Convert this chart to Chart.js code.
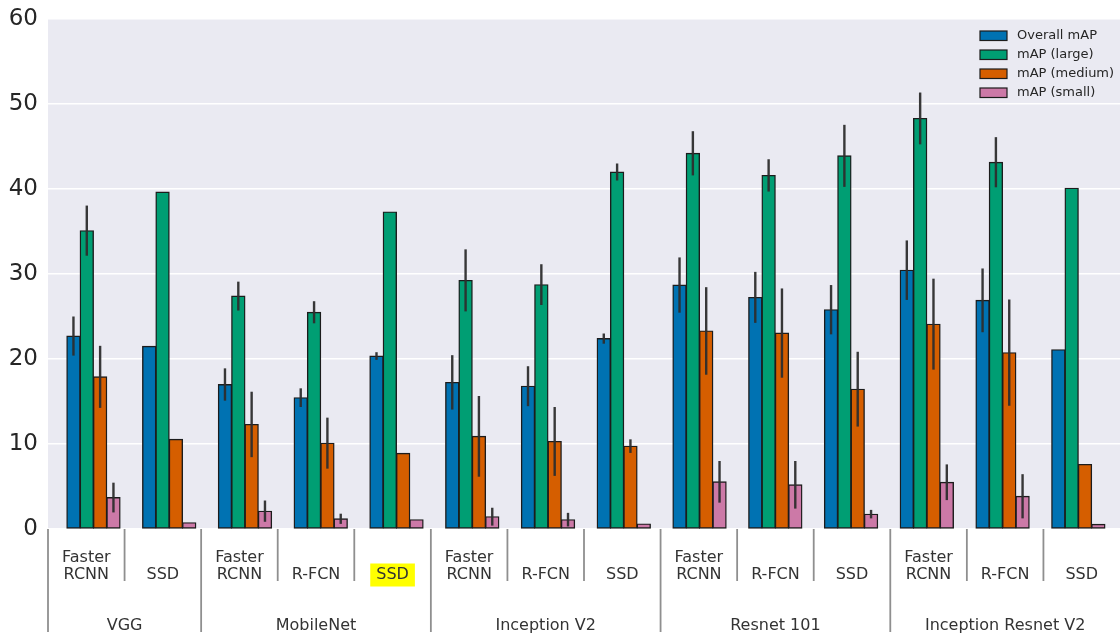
<!DOCTYPE html>
<html>
<head>
<meta charset="utf-8">
<script src="https://cdn.jsdelivr.net/npm/chart.js@4.4.1/dist/chart.umd.min.js"></script>
<style>
html, body { margin: 0; padding: 0; background: #fff; }
#wrap { width: 1120px; height: 637px; position: relative; }
</style>
</head>
<body>
<div id="wrap"><canvas id="chart-bar"></canvas></div>
<script>
var models = [["Faster", "RCNN"], ["SSD"],
              ["Faster", "RCNN"], ["R-FCN"], ["SSD"],
              ["Faster", "RCNN"], ["R-FCN"], ["SSD"],
              ["Faster", "RCNN"], ["R-FCN"], ["SSD"],
              ["Faster", "RCNN"], ["R-FCN"], ["SSD"]];
var backbones = ["VGG", "MobileNet", "Inception V2", "Resnet 101", "Inception Resnet V2"];
var backboneSizes = [2, 3, 3, 3, 3];
var highlighted = 4;

var seriesNames = ["Overall mAP", "mAP (large)", "mAP (medium)", "mAP (small)"];
var seriesColors = ["#0072b2", "#009e73", "#d55e00", "#cc79a7"];

var overall    = [22.7, 21.5, 17.0, 15.45, 20.35, 17.25, 16.8, 22.4, 28.7, 27.25, 25.8, 30.45, 26.9, 21.1];
var overallErr = [2.3, 0, 1.9, 1.1, 0.45, 3.2, 2.35, 0.6, 3.25, 3.0, 2.9, 3.5, 3.75, 0];
var large      = [35.1, 39.65, 27.4, 25.5, 37.3, 29.25, 28.75, 42.0, 44.2, 41.6, 43.9, 48.3, 43.15, 40.1];
var largeErr   = [2.95, 0, 1.7, 1.3, 0, 3.65, 2.4, 1.0, 2.6, 1.9, 3.65, 3.05, 2.95, 0];
var medium     = [17.9, 10.55, 12.3, 10.1, 8.9, 10.9, 10.3, 9.75, 23.3, 23.05, 16.45, 24.1, 20.75, 7.6];
var mediumErr  = [3.65, 0, 3.85, 3.0, 0, 4.75, 4.05, 0.8, 5.15, 5.25, 4.4, 5.35, 6.25, 0];
var small      = [3.7, 0.75, 2.1, 1.2, 1.1, 1.45, 1.1, 0.6, 5.55, 5.2, 1.75, 5.5, 3.85, 0.55];
var smallErr   = [1.75, 0, 1.25, 0.6, 0, 1.05, 0.8, 0, 2.45, 2.8, 0.5, 2.1, 2.6, 0];

var yTicks = [0, 10, 20, 30, 40, 50, 60];

var font = '"DejaVu Sans", "Liberation Sans", sans-serif';

function toPoints(values) {
    return values.map(function(v, i) { return { x: i, y: v }; });
}

var allValues = [overall, large, medium, small];
var allErrors = [overallErr, largeErr, mediumErr, smallErr];
var datasets = allValues.map(function(values, k) {
    return {
        label: seriesNames[k],
        data: toPoints(values),
        errors: allErrors[k],
        backgroundColor: seriesColors[k],
        borderColor: '#1c1c1c',
        borderWidth: 1.4,
        borderSkipped: false,
        inflateAmount: 0.5
    };
});

// light plot background
var plotBg = {
    id: 'plotBg',
    beforeDraw: function(chart) {
        var a = chart.chartArea, ctx = chart.ctx;
        ctx.save();
        ctx.fillStyle = '#eaeaf2';
        ctx.fillRect(a.left, a.top, a.right - a.left, a.bottom - a.top);
        ctx.restore();
    }
};

var errorBars = {
    id: 'errorBars',
    afterDatasetsDraw: function(chart) {
        var ctx = chart.ctx, y = chart.scales.y;
        ctx.save();
        ctx.strokeStyle = 'rgba(45,45,45,0.95)';
        ctx.lineWidth = 2.4;
        chart.data.datasets.forEach(function(ds, d) {
            var meta = chart.getDatasetMeta(d);
            ds.errors.forEach(function(e, i) {
                if (!e) return;
                var bar = meta.data[i];
                var v = ds.data[i].y;
                ctx.beginPath();
                ctx.moveTo(bar.x, y.getPixelForValue(v + e));
                ctx.lineTo(bar.x, y.getPixelForValue(v - e));
                ctx.stroke();
            });
        });
        ctx.restore();
    }
};

var legendBox = {
    id: 'legendBox',
    afterDatasetsDraw: function(chart) {
        var ctx = chart.ctx, a = chart.chartArea;
        ctx.save();
        ctx.font = '13px ' + font;
        ctx.textBaseline = 'middle';
        ctx.textAlign = 'left';
        chart.data.datasets.forEach(function(ds, k) {
            var cy = a.top + 16.5 + k * 19;
            ctx.fillStyle = ds.backgroundColor;
            ctx.fillRect(a.right - 140, cy - 4.5, 27, 9.5);
            ctx.strokeStyle = '#1c1c1c';
            ctx.lineWidth = 1.2;
            ctx.strokeRect(a.right - 140, cy - 4.5, 27, 9.5);
            ctx.fillStyle = '#262626';
            ctx.fillText(ds.label, a.right - 103, cy + 0.5);
        });
        ctx.restore();
    }
};

var axisLabels = {
    id: 'axisLabels',
    afterDraw: function(chart) {
        var ctx = chart.ctx, s = chart.scales.x2, a = chart.chartArea;
        var w = (s.right - s.left) / models.length;
        var base = a.bottom;
        ctx.save();
        ctx.font = '16px ' + font;
        ctx.textAlign = 'center';
        ctx.textBaseline = 'middle';
        models.forEach(function(lines, i) {
            var cx = s.getPixelForValue(i);
            if (i === highlighted) {
                var tw = ctx.measureText(lines[0]).width;
                ctx.fillStyle = '#ffff00';
                ctx.fillRect(cx - tw / 2 - 6, base + 34.5, tw + 12, 23);
            }
            ctx.fillStyle = '#333';
            lines.forEach(function(t, k) {
                ctx.fillText(t, cx, base + 46 - (lines.length - 1 - k) * 17);
            });
        });

        ctx.strokeStyle = '#8f8f8f';
        ctx.lineWidth = 1.8;
        var start = 0;
        backbones.forEach(function(name, g) {
            var x0 = s.left + start * w;
            var x1 = x0 + backboneSizes[g] * w;
            ctx.beginPath();
            ctx.moveTo(x0, base);
            ctx.lineTo(x0, base + 103);
            ctx.stroke();
            for (var j = 1; j < backboneSizes[g]; j++) {
                ctx.beginPath();
                ctx.moveTo(x0 + j * w, base);
                ctx.lineTo(x0 + j * w, base + 52);
                ctx.stroke();
            }
            ctx.fillStyle = '#333';
            ctx.fillText(name, (x0 + x1) / 2, base + 97);
            start += backboneSizes[g];
        });
        ctx.restore();
    }
};

var flatLabels = models.map(function(l) { return l.join(' '); });

const ctx = document.getElementById('chart-bar').getContext('2d');
const myChart = new Chart(ctx, {
    type: 'bar',
    data: { datasets: datasets },
    options: {
        responsive: true,
        maintainAspectRatio: false,
        animation: false,
        layout: { padding: { top: 19, left: 0, right: 0, bottom: 108 } },
        plugins: {
            legend: { display: false },
            tooltip: { enabled: false }
        },
        datasets: {
            bar: { categoryPercentage: 0.704, barPercentage: 1 }
        },
        scales: {
            x: {
                type: 'linear',
                min: -0.6,
                max: 13.55,
                offset: false,
                display: false,
                afterBuildTicks: function(scale) {
                    scale.ticks = models.map(function(m, i) { return { value: i }; });
                }
            },
            x2: {
                type: 'category',
                axis: 'x',
                position: 'bottom',
                labels: flatLabels,
                offset: true,
                display: false
            },
            y: {
                min: 0,
                max: 60,
                afterBuildTicks: function(scale) {
                    scale.ticks = yTicks.map(function(v) { return { value: v }; });
                },
                afterFit: function(scale) {
                    scale.width = 48;
                    scale.paddingTop = 0;
                    scale.paddingBottom = 0;
                },
                ticks: {
                    padding: 10,
                    color: '#262626',
                    font: { size: 23, family: font }
                },
                grid: { color: '#ffffff', lineWidth: 1.6, drawTicks: false },
                border: { display: false }
            }
        }
    },
    plugins: [plotBg, errorBars, legendBox, axisLabels]
});
</script>
</body>
</html>
